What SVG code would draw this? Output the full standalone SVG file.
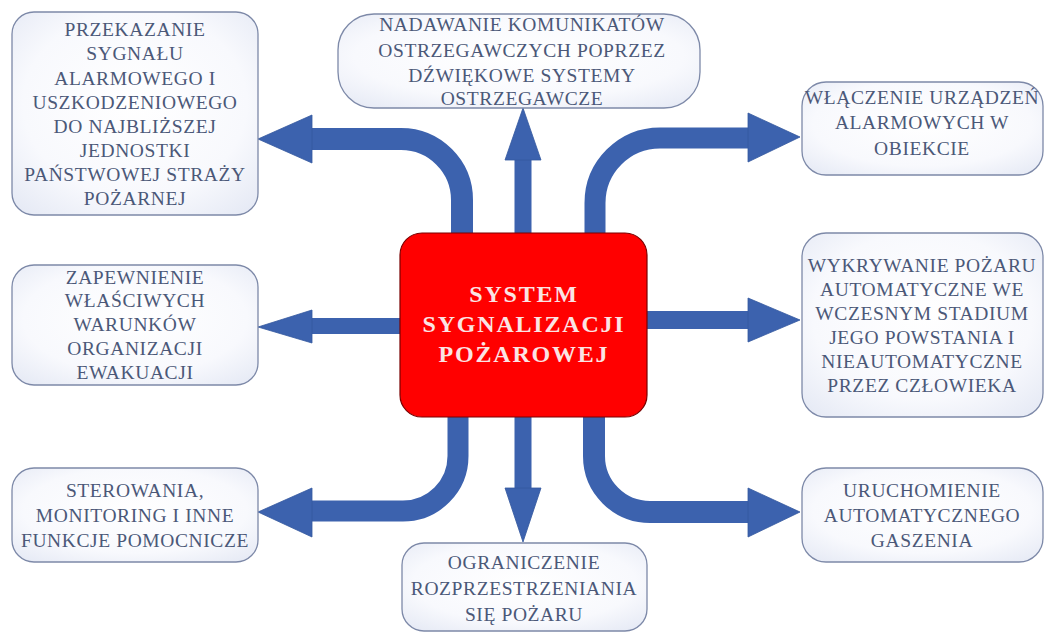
<svg xmlns="http://www.w3.org/2000/svg" width="1045" height="636" viewBox="0 0 1045 636">
<defs>
<radialGradient id="boxfill" cx="50%" cy="45%" r="70%">
<stop offset="0" stop-color="#ffffff"/>
<stop offset="0.65" stop-color="#f8f9fd"/>
<stop offset="1" stop-color="#e6eaf5"/>
</radialGradient>
<style>
.box{fill:url(#boxfill);stroke:#7d89a8;stroke-width:1.3}
.t{font-family:"Liberation Serif","Times New Roman",serif;font-size:19.5px;fill:#4b5878;text-anchor:middle;letter-spacing:0.6px}
.ct{font-family:"Liberation Serif","Times New Roman",serif;font-size:24px;font-weight:bold;fill:#fbe4e4;text-anchor:middle;letter-spacing:1.8px}
.shaft{fill:none;stroke:#3c62ae}
.head{fill:#3c62ae;stroke:#34589e;stroke-width:0.8}
</style>
</defs>
<rect width="1045" height="636" fill="#ffffff"/>
<g id="connectors">
<path class="shaft" stroke-width="22" d="M462 234 V200 A61 61 0 0 0 401 139 H308"/>
<polygon class="head" points="312,115 258,139 312,163"/>
<path class="shaft" stroke-width="17" d="M523 234 V156"/>
<polygon class="head" points="505,160 523,108 541,160"/>
<path class="shaft" stroke-width="21" d="M595 234 V203 A65 65 0 0 1 660 138 H752"/>
<polygon class="head" points="748,113 800,137 748,162"/>
<path class="shaft" stroke-width="16" d="M401 326 H308"/>
<polygon class="head" points="312,310 258,327 312,343"/>
<path class="shaft" stroke-width="18" d="M646 320 H752"/>
<polygon class="head" points="748,298 800,320 748,342"/>
<path class="shaft" stroke-width="21" d="M458 416 V456 A55 55 0 0 1 403 511 H308"/>
<polygon class="head" points="312,488 258,512 312,537"/>
<path class="shaft" stroke-width="17" d="M523 416 V492"/>
<polygon class="head" points="505,488 523,542 541,488"/>
<path class="shaft" stroke-width="22" d="M594 416 V456 A56 56 0 0 0 650 512 H752"/>
<polygon class="head" points="748,488 800,512 748,537"/>
</g>
<g id="center">
<rect x="400" y="233" width="247" height="184" rx="22" fill="#ff0000" stroke="#7a0000" stroke-width="1.2"/>
<text class="ct" x="524" y="302">SYSTEM</text>
<text class="ct" x="524" y="332">SYGNALIZACJI</text>
<text class="ct" x="524" y="362">POŻAROWEJ</text>
</g>
<g id="n1">
<rect class="box" x="12" y="12" width="246" height="203" rx="22"/>
<text class="t" x="135" y="36">PRZEKAZANIE</text>
<text class="t" x="135" y="60">SYGNAŁU</text>
<text class="t" x="135" y="85">ALARMOWEGO I</text>
<text class="t" x="135" y="109">USZKODZENIOWEGO</text>
<text class="t" x="135" y="133">DO NAJBLIŻSZEJ</text>
<text class="t" x="135" y="157">JEDNOSTKI</text>
<text class="t" x="135" y="181">PAŃSTWOWEJ STRAŻY</text>
<text class="t" x="135" y="205">POŻARNEJ</text>
</g>
<g id="n2">
<rect class="box" x="338" y="14" width="362" height="94" rx="36"/>
<text class="t" x="522" y="31">NADAWANIE KOMUNIKATÓW</text>
<text class="t" x="522" y="57">OSTRZEGAWCZYCH POPRZEZ</text>
<text class="t" x="522" y="82">DŹWIĘKOWE SYSTEMY</text>
<text class="t" x="522" y="105">OSTRZEGAWCZE</text>
</g>
<g id="n3">
<rect class="box" x="802" y="82" width="241" height="93" rx="24"/>
<text class="t" x="922" y="104">WŁĄCZENIE URZĄDZEŃ</text>
<text class="t" x="922" y="129">ALARMOWYCH W</text>
<text class="t" x="922" y="155">OBIEKCIE</text>
</g>
<g id="n4">
<rect class="box" x="12" y="265" width="246" height="120" rx="22"/>
<text class="t" x="135" y="284">ZAPEWNIENIE</text>
<text class="t" x="135" y="307">WŁAŚCIWYCH</text>
<text class="t" x="135" y="331">WARUNKÓW</text>
<text class="t" x="135" y="355">ORGANIZACJI</text>
<text class="t" x="135" y="379">EWAKUACJI</text>
</g>
<g id="n5">
<rect class="box" x="802" y="233" width="241" height="184" rx="24"/>
<text class="t" x="922" y="272">WYKRYWANIE POŻARU</text>
<text class="t" x="922" y="296">AUTOMATYCZNE WE</text>
<text class="t" x="922" y="320">WCZESNYM STADIUM</text>
<text class="t" x="922" y="344">JEGO POWSTANIA I</text>
<text class="t" x="922" y="368">NIEAUTOMATYCZNE</text>
<text class="t" x="922" y="392">PRZEZ CZŁOWIEKA</text>
</g>
<g id="n6">
<rect class="box" x="12" y="468" width="246" height="94" rx="22"/>
<text class="t" x="135" y="497">STEROWANIA,</text>
<text class="t" x="135" y="522">MONITORING I INNE</text>
<text class="t" x="135" y="547">FUNKCJE POMOCNICZE</text>
</g>
<g id="n7">
<rect class="box" x="402" y="543" width="245" height="88" rx="22"/>
<text class="t" x="524" y="569">OGRANICZENIE</text>
<text class="t" x="524" y="595">ROZPRZESTRZENIANIA</text>
<text class="t" x="524" y="621">SIĘ POŻARU</text>
</g>
<g id="n8">
<rect class="box" x="802" y="468" width="241" height="94" rx="24"/>
<text class="t" x="922" y="497">URUCHOMIENIE</text>
<text class="t" x="922" y="522">AUTOMATYCZNEGO</text>
<text class="t" x="922" y="547">GASZENIA</text>
</g>
</svg>
